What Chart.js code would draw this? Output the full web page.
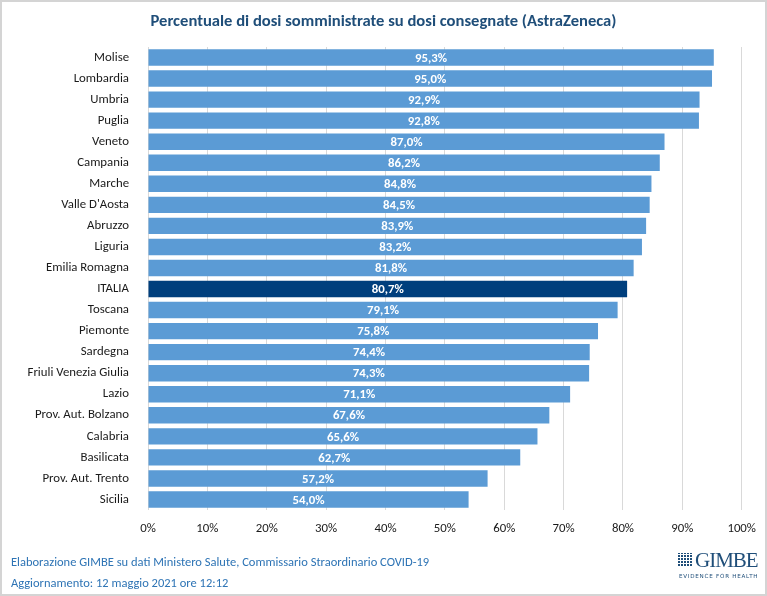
<!DOCTYPE html>
<html lang="it">
<head>
<meta charset="UTF-8">
<title>Percentuale di dosi somministrate su dosi consegnate (AstraZeneca)</title>
<style>
  html, body { margin: 0; padding: 0; background: #fff; }
  body { font-family: Carlito, Lato, sans-serif; }
  .frame {
    position: relative;
    width: 767px; height: 596px;
    box-sizing: border-box;
    border: 2px solid #d4d4d4;
    overflow: hidden;
  }
  .chart-box { position: absolute; left: -2px; top: -2px; width: 767px; height: 596px; }
  h1 {
    position: absolute; left: 0; right: 0; top: 8px; margin: 0;
    text-align: center; font-size: 16.6px; font-weight: bold; color: #1f4e79;
  }
  .footer {
    position: absolute; left: 9px; top: 549px;
    font-size: 12.5px; line-height: 21px; color: #2e74b5;
  }
  .logo { position: absolute; left: 675px; top: 547px; color: #1f4e79; }
  .logo .icon {
    position: absolute; left: 0; top: 4px; width: 15px; height: 14px;
    background:
      repeating-linear-gradient(90deg, #fff 0 1px, transparent 1px 3px),
      repeating-linear-gradient(0deg, #fff 0 1px, transparent 1px 3px),
      #1f4e79;
  }
  .logo .name {
    position: absolute; left: 18px; top: 0; font-family: "Liberation Serif", serif;
    font-size: 21px; line-height: 22px; letter-spacing: -1px;
  }
  .logo .tag {
    position: absolute; left: 2px; top: 24px; white-space: nowrap;
    font-family: "DejaVu Sans", sans-serif; font-size: 5.6px; letter-spacing: 0.75px;
  }
</style>
</head>
<body>
<div class="frame">
  <div class="chart-box"><canvas id="chart"></canvas></div>
  <h1>Percentuale di dosi somministrate su dosi consegnate (AstraZeneca)</h1>
  <div class="footer">
    Elaborazione GIMBE su dati Ministero Salute, Commissario Straordinario COVID-19<br>
    Aggiornamento: 12 maggio 2021 ore 12:12
  </div>
  <div class="logo">
    <div class="icon"></div>
    <div class="name">GIMBE</div>
    <div class="tag">EVIDENCE FOR HEALTH</div>
  </div>
</div>

<script src="https://cdn.jsdelivr.net/npm/chart.js"></script>
<script>
  const regions = ['Molise', 'Lombardia', 'Umbria', 'Puglia', 'Veneto', 'Campania', 'Marche',
    "Valle D'Aosta", 'Abruzzo', 'Liguria', 'Emilia Romagna', 'ITALIA', 'Toscana', 'Piemonte',
    'Sardegna', 'Friuli Venezia Giulia', 'Lazio', 'Prov. Aut. Bolzano', 'Calabria', 'Basilicata',
    'Prov. Aut. Trento', 'Sicilia'];
  const percent = [95.3, 95.0, 92.9, 92.8, 87.0, 86.2, 84.8, 84.5, 83.9, 83.2, 81.8, 80.7, 79.1,
    75.8, 74.4, 74.3, 71.1, 67.6, 65.6, 62.7, 57.2, 54.0];
  const xTicks = [0, 10, 20, 30, 40, 50, 60, 70, 80, 90, 100];

  const fontFamily = 'Carlito, Lato, sans-serif';
  const barColors = regions.map(r => r === 'ITALIA' ? '#003f7d' : '#5b9bd5');

  // white value labels in the middle of each bar
  const barLabels = {
    id: 'barLabels',
    afterDatasetsDraw(chart) {
      const ctx = chart.ctx;
      const meta = chart.getDatasetMeta(0);
      ctx.save();
      ctx.font = 'bold 12.8px ' + fontFamily;
      ctx.fillStyle = '#ffffff';
      ctx.textAlign = 'center';
      ctx.textBaseline = 'middle';
      meta.data.forEach((bar, i) => {
        const cx = (bar.x + bar.base) / 2;
        ctx.fillText(percent[i].toFixed(1).replace('.', ',') + '%', cx, bar.y + 1);
      });
      ctx.restore();
    }
  };

  new Chart(document.getElementById('chart'), {
    type: 'bar',
    data: {
      labels: regions,
      datasets: [{
        data: percent,
        backgroundColor: barColors,
        categoryPercentage: 1,
        barPercentage: 0.78
      }]
    },
    options: {
      indexAxis: 'y',
      responsive: true,
      maintainAspectRatio: false,
      animation: false,
      layout: { padding: { top: 47, right: 25, left: 0, bottom: 0 } },
      plugins: { legend: { display: false }, tooltip: { enabled: false } },
      scales: {
        x: {
          min: 0, max: 100,
          afterBuildTicks(scale) { scale.ticks = xTicks.map(v => ({ value: v })); },
          afterFit(scale) { scale.height = 86; },
          grid: { color: '#d9d9d9', drawTicks: false },
          border: { display: false },
          ticks: {
            padding: 11,
            color: '#1a1a1a',
            font: { family: fontFamily, size: 12.8 },
            callback: v => v + '%'
          }
        },
        y: {
          afterFit(scale) { scale.width = 148; },
          grid: { display: false },
          border: { display: false },
          ticks: {
            padding: 11,
            color: '#1a1a1a',
            autoSkip: false,
            font: { family: fontFamily, size: 12.8 }
          }
        }
      }
    },
    plugins: [barLabels]
  });
</script>
</body>
</html>
